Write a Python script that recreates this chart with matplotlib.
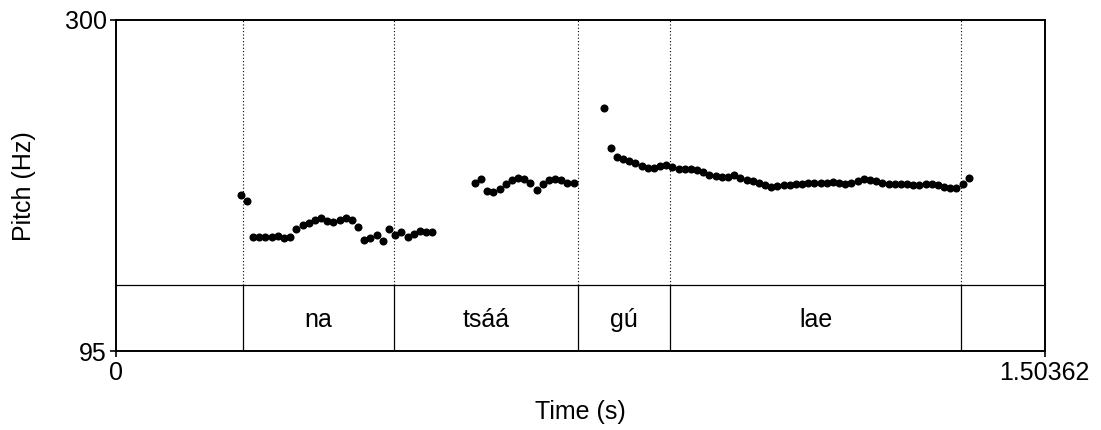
import matplotlib

matplotlib.use("Agg")
import matplotlib.pyplot as plt

plt.rcParams["font.family"] = ["Liberation Sans", "DejaVu Sans"]

# pitch track (s, Hz), one list per voiced stretch
na_time = [0.202, 0.212, 0.222, 0.232, 0.242, 0.252, 0.262, 0.272, 0.282, 0.292,
           0.302, 0.312, 0.322, 0.332, 0.342, 0.352, 0.362, 0.372, 0.382, 0.392,
           0.402, 0.412, 0.422, 0.432, 0.442, 0.452, 0.462, 0.472, 0.482, 0.492,
           0.502, 0.512]
na_hz = [191.9, 188.2, 165.6, 165.6, 165.6, 165.8, 166.2, 165.2, 165.8, 170.9,
         173.0, 174.5, 176.1, 177.6, 175.5, 174.8, 176.5, 177.6, 176.1, 172.0,
         164.0, 165.2, 167.1, 163.5, 170.9, 167.2, 168.7, 165.6, 167.4, 169.7,
         168.7, 168.7]

tsaa_time = [0.581, 0.591, 0.601, 0.611, 0.621, 0.631, 0.641, 0.651, 0.661,
             0.671, 0.681, 0.691, 0.701, 0.711, 0.721, 0.731, 0.741]
tsaa_hz = [199.2, 201.6, 194.2, 193.8, 195.6, 198.3, 201.0, 202.0, 201.6,
           199.5, 195.0, 198.3, 200.8, 201.6, 200.8, 199.5, 199.2]

gulae_time = [0.791, 0.801, 0.811, 0.821, 0.831, 0.841, 0.851, 0.861, 0.871, 0.881,
              0.891, 0.901, 0.911, 0.921, 0.931, 0.941, 0.951, 0.961, 0.971, 0.981,
              0.991, 1.001, 1.011, 1.021, 1.031, 1.041, 1.051, 1.061, 1.071, 1.081,
              1.091, 1.101, 1.111, 1.121, 1.131, 1.141, 1.151, 1.161, 1.171, 1.181,
              1.191, 1.201, 1.211, 1.221, 1.231, 1.241, 1.251, 1.261, 1.271, 1.281,
              1.291, 1.301, 1.311, 1.321, 1.331, 1.341, 1.351, 1.361, 1.371, 1.381]
gulae_hz = [245.7, 220.8, 215.0, 214.2, 212.9, 211.5, 209.7, 208.4, 208.4, 209.8,
            210.3, 209.0, 207.6, 207.8, 207.8, 207.0, 206.0, 204.3, 203.7, 203.2,
            203.1, 203.9, 202.3, 201.2, 200.6, 199.4, 198.1, 196.7, 197.5, 198.1,
            198.1, 198.6, 198.7, 199.2, 199.2, 199.5, 199.5, 199.7, 199.5, 198.7,
            199.2, 200.2, 201.6, 200.8, 200.2, 199.5, 198.7, 198.6, 198.3, 198.3,
            198.1, 198.1, 198.3, 198.3, 198.1, 196.7, 195.8, 195.8, 198.7, 202.3]

# TextGrid tier
boundaries = [0.2061, 0.4502, 0.7482, 0.8976, 1.3679]
words = ["na", "tsáá", "gú", "lae"]

t_end = 1.50362
f_min, f_max = 95, 300
tier_top = 136.1
tier_mid = 114.2

fig = plt.figure(figsize=(11.01, 4.30), dpi=100)
ax = fig.add_axes([0.1054, 0.1826, 0.8433, 0.7709])

for t in boundaries:
    ax.plot([t, t], [tier_top, f_max], color="black", linestyle=(0, (1, 2)), linewidth=0.8)
    ax.plot([t, t], [f_min, tier_top], color="black", linewidth=0.9)
ax.plot([0, t_end], [tier_top, tier_top], color="black", linewidth=0.9)

for word, left, right in zip(words, boundaries[:-1], boundaries[1:]):
    ax.text((left + right) / 2, tier_mid, word, ha="center", va="center", fontsize=18)

for times, hz in [(na_time, na_hz), (tsaa_time, tsaa_hz), (gulae_time, gulae_hz)]:
    ax.plot(times, hz, "o", color="black", markersize=5.8, markeredgewidth=0)

ax.set_xlim(0, t_end)
ax.set_ylim(f_min, f_max)
ax.set_xticks([0, t_end], labels=["0", "1.50362"])
ax.set_yticks([f_min, f_max], labels=["95", "300"])
ax.tick_params(direction="out", length=4.5, width=1.2, labelsize=18, pad=2)
for spine in ax.spines.values():
    spine.set_linewidth(1.4)
ax.set_xlabel("Time (s)", fontsize=18, labelpad=11)
ax.set_ylabel("Pitch (Hz)", fontsize=18, labelpad=21)

fig.savefig("out.png", dpi=100)
